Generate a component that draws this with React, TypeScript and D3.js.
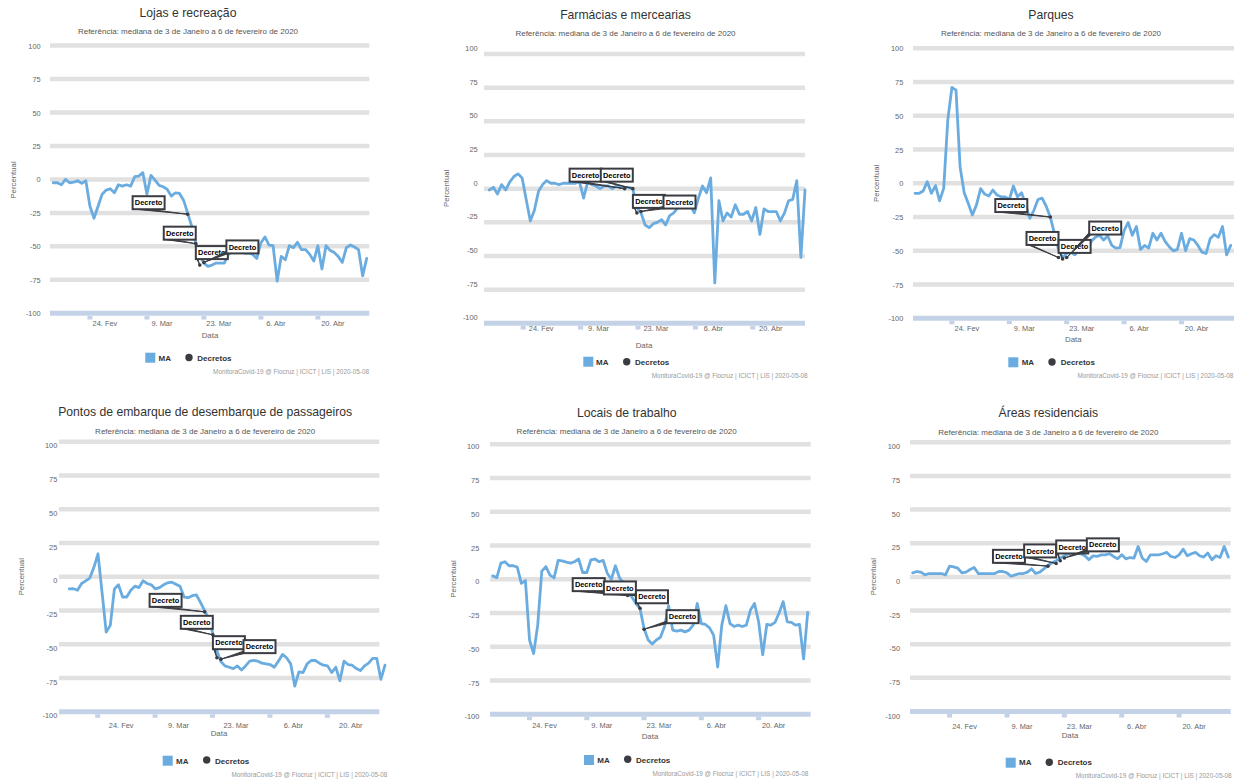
import React from 'react';
import * as d3 from 'd3';

// ---------- DATA ----------
const START = new Date(2020, 1, 15);
const dates: Date[] = d3.timeDay.range(START, d3.timeDay.offset(START, 78));

const tickDates = [new Date(2020, 1, 24), new Date(2020, 2, 9), new Date(2020, 2, 23), new Date(2020, 3, 6), new Date(2020, 3, 20)];
const tickLabels = ['24. Fev', '9. Mar', '23. Mar', '6. Abr', '20. Abr'];
const yTicks = [100, 75, 50, 25, 0, -25, -50, -75, -100];

const titles = [
  'Lojas e recreação',
  'Farmácias e mercearias',
  'Parques',
  'Pontos de embarque de desembarque de passageiros',
  'Locais de trabalho',
  'Áreas residenciais',
];
const subtitle = 'Referência: mediana de 3 de Janeiro a 6 de fevereiro de 2020';
const credits = 'MonitoraCovid-19 @ Fiocruz | ICICT | LIS | 2020-05-08';

const lojas = [-2.5, -2.5, -4, 0, -2.5, -2, -1, -3, -1, -20, -29, -20, -11, -8, -7, -10, -4, -5, -4, -5, 2, 2.5, 5, -11, 3, -0.5, -4.5, -5.5, -7.5, -12.5, -10, -10.5, -15.5, -25, -35, -47.5, -57.5, -62.5, -65, -64, -62.5, -62.5, -62.5, -56, -54, -53, -54, -55, -55, -56, -59, -47.5, -43, -49, -49.5, -76, -57.5, -60, -49.5, -51, -47, -52.5, -52.5, -56, -61, -49.5, -67, -49.5, -53, -54.5, -57.5, -62, -51, -49, -50.5, -52.5, -72, -59];
const farmacias = [-1, 1, -4, 3, -1, 5, 9, 11, 8, -8, -24, -16, -2, 3, 6, 4, 4, 3, 4, 4, 4, 4, 5, -7, 5, 3, 2, 0, 2, 2, 0, 2, 1, 1, 1, 0, -14, -18, -27, -29, -26, -25, -23, -27, -20, -18, -14, -13, -13, -12, -18, -7, 2, -3, 8, -70, -9, -24, -18, -21, -12, -19, -19, -17, -24, -14, -34, -15, -17, -17, -17, -24, -18, -9, -8, 6, -51, -1];
const parques = [-7.4, -7.4, -5.7, 1.2, -7.4, -1.7, -13, -3.7, 47, 71, 69, 12, -7, -15, -23.5, -16, -4, -8, -9.4, -5, -8.7, -10, -10, -12, -2, -10, -7, -16, -26, -20, -12, -11, -17, -25, -37, -49, -55, -52, -51, -53, -50, -50, -50, -43, -40, -38.5, -42, -39, -46, -48, -47.6, -35, -29, -38.5, -32, -49, -46, -48, -37, -42, -37, -43, -47, -50, -49, -37, -50, -41, -42, -46, -51, -52, -41, -38, -40, -32, -53, -46];
const transporte = [-9, -8.9, -10, -5, -3, -1, 7, 17, -12, -41, -36, -9, -6, -15, -15, -10, -7, -8, -3, -5, -6, -9, -8, -6, -4.5, -4, -5.5, -7, -15, -15.5, -14, -13.5, -19, -25, -31, -42, -55, -63, -66, -67, -68, -66, -69, -66, -62.5, -62, -62.5, -64, -64.5, -65, -67, -62.5, -57.5, -60, -64.5, -81, -70.5, -71, -64.5, -62, -62, -64, -65.5, -66, -71, -67, -77, -62.5, -65, -65.5, -68, -69.5, -66, -64, -60.5, -60.5, -76, -65.5];
const trabalho = [2.5, 1.2, 12, 13, 10, 10, 9, -3, -1, -45, -55, -34, 6, 9.4, 3, 1, 14, 13.6, 12.7, 12, 13, 15, 5, 5, 14.4, 15, 13, 14, 4.5, 0, 10, 1, -3, -10, -13, -18, -21.6, -36.5, -45, -48, -45, -43, -35, -19.6, -37.7, -38.5, -37.7, -39, -37.7, -34, -18, -32.8, -33.5, -36, -41.4, -65, -34, -19.6, -32.8, -35, -34, -35, -34, -22.8, -18, -31.5, -56, -33.5, -34, -32, -25, -16.6, -31.5, -32, -34, -33.5, -59, -24.6];
const residencial = [3, 4, 3.5, 1.5, 2.5, 2.5, 2.5, 2.5, 1.5, 8, 7.5, 6.5, 3, 3.5, 5.5, 7, 2.5, 2.5, 2.5, 2.5, 2.5, 4, 4, 3, 0.5, 1.5, 2.5, 2.5, 3.5, 6, 2.5, 3.5, 6, 8.5, 10.5, 12, 14, 15.7, 17.2, 16.4, 17.7, 17.2, 15.7, 12.7, 15.7, 15.2, 16.4, 16.4, 17.2, 15.2, 13.4, 16.4, 13.4, 14.4, 14, 22.6, 14, 11.4, 16.4, 16.4, 16.4, 17.2, 18.2, 15.2, 14.4, 16.4, 20.6, 15.7, 17.2, 18.2, 15.7, 14.7, 17.7, 12.7, 15.7, 14.4, 22.6, 14.7];

const seriesList = [lojas, farmacias, parques, transporte, trabalho, residencial];

const decreeDates = [new Date(2020, 2, 19), new Date(2020, 2, 21), new Date(2020, 2, 22), new Date(2020, 2, 23)];
const decreeLojas = [-26, -48, -64, -62];
const decreeFarmacias = [0, 0, -18, -17];
const decreeParques = [-25, -55, -56, -55];
const decreeTransporte = [-26, -43, -60, -61];
const decreeTrabalho = [-12, -12, -21.5, -37];
const decreeResidencial = [8, 10, 12, 14];
const decreeList = [decreeLojas, decreeFarmacias, decreeParques, decreeTransporte, decreeTrabalho, decreeResidencial];

// ---------- LAYOUT / STYLE ----------
const FONT = '"Liberation Sans", Arial, sans-serif';
const LINE_COLOR = '#6aace0';
const DARK = '#3a3c42';
const GRID = '#e1e1e1';
const AXIS = '#c4d2e7';
const BOX_DX = [-55, -32, -4, 22.5];
const BOX_W = 32;
const BOX_H = 13;

type Layout = {
  bx0: number; bx1: number; y100: number; yM100: number; labelX: number; labelDy: number;
  lx0: number; lx1: number; tickShift: number; tickY: number; tickLabelY: number;
  titleX: number; titleY: number; subY: number; dataX: number; dataY: number;
  percX: number; percY: number; sqX: number; sqY: number; maX: number; legY: number;
  circX: number; circY: number; decX: number; creditX: number; creditY: number; boxDy: number[];
};

const layouts: Layout[] = [
  { bx0: 50, bx1: 369.3, y100: 45.5, yM100: 313.3, labelX: 40.7, labelDy: 0.5,
    lx0: 53.3, lx1: 366.7, tickShift: 0, tickY: 316, tickLabelY: 325.5,
    titleX: 188, titleY: 17, subY: 33.5, dataX: 210, dataY: 337.5,
    percX: 13.5, percY: 180, sqX: 145.3, sqY: 352.7, maX: 158.5, legY: 360.5,
    circX: 189, circY: 357.5, decX: 197.3, creditX: 369, creditY: 373.5, boxDy: [-18, -17, -19, -22] },
  { bx0: 484, bx1: 805, y100: 54, yM100: 323.3, labelX: 477.7, labelDy: -5.5,
    lx0: 489.3, lx1: 805, tickShift: -3, tickY: 326, tickLabelY: 330.5,
    titleX: 625.5, titleY: 19, subY: 36.3, dataX: 644, dataY: 347.5,
    percX: 446.7, percY: 188.3, sqX: 583.3, sqY: 356.7, maX: 596, legY: 364.5,
    circX: 626.7, circY: 361.7, decX: 635, creditX: 807.7, creditY: 378, boxDy: [-20, -20, -18, -16] },
  { bx0: 913, bx1: 1234, y100: 48.3, yM100: 318.3, labelX: 903.3, labelDy: 0.5,
    lx0: 915, lx1: 1230.7, tickShift: 0, tickY: 320.7, tickLabelY: 330.5,
    titleX: 1051, titleY: 19, subY: 36.3, dataX: 1073.3, dataY: 342,
    percX: 876, percY: 183.3, sqX: 1008.3, sqY: 357.3, maX: 1021.7, legY: 365,
    circX: 1052, circY: 362, decX: 1060.7, creditX: 1233.3, creditY: 378, boxDy: [-18, -25.6, -19, -36] },
  { bx0: 59, bx1: 379.3, y100: 441.7, yM100: 711.8, labelX: 57.3, labelDy: 4,
    lx0: 69.3, lx1: 385, tickShift: -8.5, tickY: 714.3, tickLabelY: 728,
    titleX: 205.2, titleY: 416, subY: 433.5, dataX: 219, dataY: 736,
    percX: 21.7, percY: 576.7, sqX: 162.7, sqY: 755.7, maX: 176, legY: 763.5,
    circX: 206.7, circY: 760, decX: 215, creditX: 387.3, creditY: 776.5, boxDy: [-18, -19, -21.6, -19] },
  { bx0: 490, bx1: 810.7, y100: 444.3, yM100: 714.2, labelX: 479.3, labelDy: 2.5,
    lx0: 492.7, lx1: 807.7, tickShift: 0, tickY: 716.7, tickLabelY: 727.5,
    titleX: 626.7, titleY: 417, subY: 434.3, dataX: 650, dataY: 738.5,
    percX: 453.3, percY: 579, sqX: 584, sqY: 755, maX: 597.3, legY: 763,
    circX: 627.7, circY: 759.3, decX: 636, creditX: 808.3, creditY: 775.5, boxDy: [-17.3, -14, -18, -19] },
  { bx0: 910, bx1: 1230.7, y100: 442.3, yM100: 711.5, labelX: 900, labelDy: 4.5,
    lx0: 912.7, lx1: 1228.3, tickShift: 0, tickY: 714, tickLabelY: 728.5,
    titleX: 1048.3, titleY: 417, subY: 434.5, dataX: 1070, dataY: 738,
    percX: 873.3, percY: 576.7, sqX: 1005.7, sqY: 757.7, maX: 1019, legY: 765.3,
    circX: 1049.3, circY: 762.3, decX: 1057.7, creditX: 1231.7, creditY: 778, boxDy: [-16.3, -19, -20.3, -19.7] },
];

function Panel({ L, title, values, decVals }: { L: Layout; title: string; values: number[]; decVals: number[] }) {
  const x = d3.scaleTime().domain([dates[0], dates[dates.length - 1]]).range([L.lx0, L.lx1]);
  const y = d3.scaleLinear().domain([-100, 100]).range([L.yM100, L.y100]);
  const line = d3.line<number>().x((_, i) => x(dates[i])).y((v) => y(v));
  const decPts = decreeDates.map((d, i) => ({ px: x(d), py: y(decVals[i]) }));

  return (
    <g>
      <text x={L.titleX} y={L.titleY} textAnchor="middle" fontSize={12.2} fill="#333" fontFamily={FONT}>{title}</text>
      <text x={L.titleX} y={L.subY} textAnchor="middle" fontSize={8} fill="#555" fontFamily={FONT}>{subtitle}</text>

      {yTicks.filter((t) => t !== -100).map((t) => (
        <line key={t} x1={L.bx0} x2={L.bx1} y1={y(t)} y2={y(t)} stroke={GRID} strokeWidth={4.5} />
      ))}
      <line x1={L.bx0} x2={L.bx1} y1={y(-100)} y2={y(-100)} stroke={AXIS} strokeWidth={5} />
      {tickDates.map((d, i) => (
        <rect key={i} x={x(d) + L.tickShift - 2.5} y={L.tickY} width={5} height={3.5} fill={AXIS} />
      ))}

      {yTicks.map((t) => (
        <text key={t} x={L.labelX} y={y(t) + L.labelDy} dy="0.35em" textAnchor="end" fontSize={7.4} fill="#666" fontFamily={FONT}>{String(t)}</text>
      ))}
      {tickDates.map((d, i) => (
        <text key={i} x={x(d) + 15} y={L.tickLabelY} textAnchor="middle" fontSize={7.4} fill="#666" fontFamily={FONT}>{tickLabels[i]}</text>
      ))}
      <text x={L.dataX} y={L.dataY} textAnchor="middle" fontSize={7.9} fill="#666" fontFamily={FONT}>Data</text>
      <text transform={`translate(${L.percX},${L.percY}) rotate(-90)`} dy="0.35em" textAnchor="middle" fontSize={7.8} fill="#666" fontFamily={FONT}>Percentual</text>

      <path d={line(values) || ''} fill="none" stroke={LINE_COLOR} strokeWidth={2.8} strokeLinejoin="round" strokeLinecap="round" />

      {decPts.map((p, i) => (
        <circle key={i} cx={p.px} cy={p.py} r={1.8} fill={DARK} />
      ))}
      {decPts.map((p, i) => {
        const bx = p.px + BOX_DX[i];
        const by = p.py + L.boxDy[i];
        const bl = { x: bx, y: by + BOX_H };
        return (
          <g key={i}>
            <path d={`M${bl.x},${bl.y - 2}L${p.px},${p.py}L${bl.x + 2},${bl.y}Z`} fill={DARK} stroke={DARK} strokeWidth={1} strokeLinejoin="round" />
            <rect x={bx} y={by} width={BOX_W} height={BOX_H} fill="#fff" stroke={DARK} strokeWidth={2} />
            <text x={bx + BOX_W / 2} y={by + BOX_H / 2} dy="0.35em" textAnchor="middle" fontSize={7.4} fontWeight="bold" fill="#000" fontFamily={FONT}>Decreto</text>
          </g>
        );
      })}

      <rect x={L.sqX} y={L.sqY} width={10} height={10} fill={LINE_COLOR} />
      <text x={L.maX} y={L.legY} fontSize={8} fontWeight="bold" fill="#333" fontFamily={FONT}>MA</text>
      <circle cx={L.circX} cy={L.circY} r={3.7} fill={DARK} />
      <text x={L.decX} y={L.legY} fontSize={8} fontWeight="bold" fill="#333" fontFamily={FONT}>Decretos</text>

      <text x={L.creditX} y={L.creditY} textAnchor="end" fontSize={6.4} fill="#999" fontFamily={FONT}>{credits}</text>
    </g>
  );
}

export default function App() {
  return (
    <div style={{ position: 'absolute', left: 0, top: 0, width: 1243, height: 782, background: '#fff' }}>
      <svg width={1243} height={782} style={{ display: 'block' }}>
        <rect width={1243} height={782} fill="#fff" />
        {layouts.map((L, i) => (
          <Panel key={i} L={L} title={titles[i]} values={seriesList[i]} decVals={decreeList[i]} />
        ))}
      </svg>
    </div>
  );
}
